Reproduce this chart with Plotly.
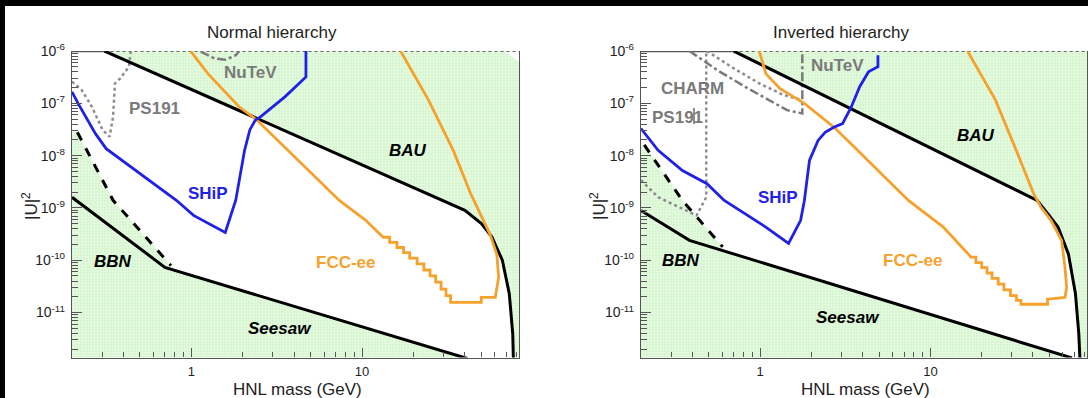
import plotly.graph_objects as go

W, H = 1088, 398

# ---------------- axis extents ----------------
M_RANGE = [0.2, 83.0]            # HNL mass (GeV)
U_RANGE = [10 ** -11.86, 1.0e-6]  # |U|^2

X_TICKS = [1, 10]
X_TICK_TEXT = ["1", "10"]
X_MINOR = [0.3, 0.4, 0.5, 0.6, 0.7, 0.8, 0.9, 2, 3, 4, 5, 6, 7, 8, 9,
           20, 30, 40, 50, 60, 70, 80]
Y_TICKS = [1e-11, 1e-10, 1e-9, 1e-8, 1e-7, 1e-6]
Y_TICK_TEXT = ["10<sup>-11</sup>", "10<sup>-10</sup>", "10<sup>-9</sup>",
               "10<sup>-8</sup>", "10<sup>-7</sup>", "10<sup>-6</sup>"]
Y_MINOR = [k * 10.0 ** e for e in range(-12, -6) for k in range(2, 10)]

# ---------------- Normal hierarchy ----------------
nh_bau_m = [0.31, 29.7, 40.0, 50.0, 57.5, 66.3, 72.8, 76.3, 77.1]
nh_bau_u = [1e-6, 1.4e-9, 9.0e-10, 5.0e-10, 2.8e-10, 1.0e-10, 2.3e-11, 3.9e-12, 1.0e-12]

nh_seesaw_m = [0.2, 0.70, 41.3]
nh_seesaw_u = [1.6e-9, 7.3e-11, 1.32e-12]

nh_bbn_dash_m = [0.215, 0.348, 0.76]
nh_bbn_dash_u = [2.8e-8, 1.4e-9, 7.9e-11]

nh_ship_m = [0.2, 0.217, 0.275, 0.317, 0.817, 1.03, 1.58, 1.82, 1.91, 2.05, 2.2,
             2.37, 2.54, 3.53, 4.69, 4.69]
nh_ship_u = [1.66e-7, 1.0e-7, 2.6e-8, 1.36e-8, 1.4e-9, 7.2e-10, 3.4e-10, 1.4e-9,
             3.4e-9, 1.26e-8, 3.1e-8, 4.8e-8, 5.5e-8, 1.33e-7, 3.2e-7, 1e-6]

nh_fcc_m = [0.99, 1.25, 1.91, 2.42, 7.36, 10.5, 13.3,
            14.5, 14.5, 16.0, 16.0, 17.5, 17.5, 19.0, 19.0, 21.0, 21.0, 23.0, 23.0,
            25.0, 25.0, 27.0, 27.0, 29.0, 29.0, 31.0, 31.0, 33.0, 33.0,
            49.9, 49.9, 60.3, 63.1, 61.5, 56.0, 48.0, 43.3, 34.2, 24.5, 16.8]
nh_fcc_u = [1e-6, 3.7e-7, 8.5e-8, 4.8e-8, 1.39e-9, 5.8e-10, 2.75e-10,
            2.75e-10, 2.2e-10, 2.2e-10, 1.75e-10, 1.75e-10, 1.4e-10, 1.4e-10, 1.1e-10,
            1.1e-10, 8.5e-11, 8.5e-11, 6.5e-11, 6.5e-11, 5.0e-11, 5.0e-11, 3.8e-11,
            3.8e-11, 2.8e-11, 2.8e-11, 2.1e-11, 2.1e-11, 1.57e-11,
            1.57e-11, 1.95e-11, 1.95e-11, 4.7e-11, 1.3e-10, 3.2e-10, 8.9e-10, 1.86e-9,
            1.26e-8, 1.15e-7, 1e-6]

nh_ps191_m = [0.2, 0.228, 0.262, 0.302, 0.332, 0.348, 0.357, 0.383, 0.431, 0.442]
nh_ps191_u = [2.6e-7, 1.8e-7, 8.5e-8, 3.1e-8, 2.3e-8, 5.5e-8, 2.4e-7, 3.0e-7, 5.0e-7, 1e-6]

nh_nutev_m = [1.135, 1.37, 1.58, 1.82, 1.91]
nh_nutev_u = [9.7e-7, 7.2e-7, 6.8e-7, 8.3e-7, 1e-6]

# ---------------- Inverted hierarchy ----------------
ih_bau_m = [0.70, 42.3, 50.0, 56.1, 64.6, 71.0, 74.3, 75.5, 75.7]
ih_bau_u = [1e-6, 1.39e-9, 7.0e-10, 4.3e-10, 1.3e-10, 2.3e-11, 3.9e-12, 1.3e-12, 1.0e-12]

ih_seesaw_m = [0.2, 0.385, 67.7]
ih_seesaw_u = [8.9e-10, 2.4e-10, 1.35e-12]

ih_bbn_dash_m = [0.209, 0.35, 0.603]
ih_bbn_dash_u = [1.6e-8, 1.39e-9, 1.8e-10]

ih_ship_m = [0.2, 0.252, 0.35, 0.488, 0.616, 1.08, 1.47, 1.73, 1.82, 1.86, 1.95,
             2.19, 2.41, 2.71, 3.05, 3.43, 3.85, 4.33, 4.92, 4.92]
ih_ship_u = [3.3e-8, 1.26e-8, 5.2e-9, 2.9e-9, 1.39e-9, 4.3e-10, 2.1e-10, 5.8e-10,
             1.39e-9, 2.5e-9, 8.1e-9, 1.95e-8, 2.8e-8, 3.5e-8, 4.1e-8, 8.5e-8,
             2.1e-7, 4.0e-7, 5.0e-7, 8.3e-7]

ih_fcc_m = [0.99, 1.08, 1.31, 1.82, 2.77, 7.43, 11.9, 17.3,
            18.5, 18.5, 20.0, 20.0, 21.5, 21.5, 23.0, 23.0, 25.0, 25.0, 27.0, 27.0,
            29.5, 29.5, 32.0, 32.0, 34.0, 34.0,
            48.7, 48.7, 61.6, 63.1, 61.6, 58.9, 51.0, 44.4, 42.4, 40.4, 31.9, 24.1, 16.5]
ih_fcc_u = [1e-6, 3.7e-7, 1.9e-7, 1.0e-7, 3.3e-8, 1.39e-9, 4.3e-10, 1.15e-10,
            1.15e-10, 9.0e-11, 9.0e-11, 7.2e-11, 7.2e-11, 5.7e-11, 5.7e-11, 4.5e-11,
            4.5e-11, 3.5e-11, 3.5e-11, 2.7e-11, 2.7e-11, 2.1e-11, 2.1e-11, 1.7e-11,
            1.7e-11, 1.44e-11,
            1.44e-11, 1.8e-11, 1.95e-11, 3.0e-11, 7.4e-11, 2.4e-10, 5.8e-10, 1.05e-9,
            1.39e-9, 1.86e-9, 1.26e-8, 1.15e-7, 1e-6]

ih_ps191_m = [0.2, 0.252, 0.424, 0.483, 0.483]
ih_ps191_u = [3.4e-9, 1.6e-9, 7.2e-10, 1.6e-9, 1e-6]

ih_charm_low_m = [0.385, 0.561, 0.817, 1.14, 1.44, 1.77, 1.77]
ih_charm_low_u = [1e-6, 4.3e-7, 2.07e-7, 1.15e-7, 7.4e-8, 6.4e-8, 1e-6]
ih_charm_high_m = [0.487, 0.677, 0.99, 1.37, 1.77]
ih_charm_high_u = [1e-6, 5.0e-7, 2.4e-7, 1.45e-7, 1.15e-7]

# ---------------- styles ----------------
GREEN = "rgb(214,246,208)"
GREEN_GRID = "rgb(236,252,233)"
BLUE = "#1f22e6"
ORANGE = "#f6a12c"
GREY = "#7a7a7a"
FRAME = "#555"
FONT = "Liberation Sans, Arial, sans-serif"

fig = go.Figure()


def line(xs, ys, ax, color, width=3.0, dash="solid"):
    fig.add_trace(go.Scatter(x=xs, y=ys, mode="lines", xaxis=ax[0], yaxis=ax[1],
                             line=dict(color=color, width=width, dash=dash),
                             hoverinfo="skip", showlegend=False))


def region(xs, ys, ax):
    # light green excluded area with a fine grid texture
    fig.add_trace(go.Scatter(x=xs, y=ys, mode="lines", fill="toself",
                             fillcolor=GREEN, line=dict(width=0),
                             fillpattern=dict(shape="+", size=3, solidity=0.35,
                                              fgcolor=GREEN_GRID, bgcolor=GREEN,
                                              fillmode="replace"),
                             xaxis=ax[0], yaxis=ax[1],
                             hoverinfo="skip", showlegend=False))


LO = 1e-13
panels = [
    (("x", "y"), nh_bau_m, nh_bau_u, nh_seesaw_m, nh_seesaw_u, nh_bbn_dash_m, nh_bbn_dash_u, True),
    (("x2", "y2"), ih_bau_m, ih_bau_u, ih_seesaw_m, ih_seesaw_u, ih_bbn_dash_m, ih_bbn_dash_u, False),
]

for ax, bm, bu, sm, su, dm, du, cut in panels:
    # excluded by BAU: everything above the BAU curve
    if cut:
        top_x = [M_RANGE[1], M_RANGE[1], 68.6, bm[0]]
        top_y = [LO, 6.2e-7, 1e-6, 1e-6]
    else:
        top_x = [M_RANGE[1], M_RANGE[1], bm[0]]
        top_y = [LO, 1e-6, 1e-6]
    region(bm + [bm[-1]] + top_x, bu + [LO] + top_y, ax)
    # excluded by BBN / seesaw: below the solid and left of the dashed curves
    s_end = su[1] * (dm[-1] / sm[1]) ** (-1.0)  # foot of the dashed curve on the seesaw line
    region([0.1, 0.1] + dm + [dm[-1], sm[-1], sm[-1]],
           [LO, du[0]] + du + [s_end, su[-1], LO], ax)
    # upper frame edge: solid over the allowed band, dotted over the excluded band
    line([M_RANGE[0], bm[0]], [1e-6, 1e-6], ax, FRAME, 2.4)
    line([bm[0], M_RANGE[1]], [1e-6, 1e-6], ax, "#666", 2.0, "dot")

# ---- curves, Normal hierarchy ----
A = ("x", "y")
line(nh_ps191_m, nh_ps191_u, A, "#8c8c8c", 2.5, "dot")
line(nh_nutev_m, nh_nutev_u, A, GREY, 2.5, "dashdot")
line(nh_bbn_dash_m, nh_bbn_dash_u, A, "black", 3, "dash")
line(nh_seesaw_m, nh_seesaw_u, A, "black", 3)
line(nh_bau_m, nh_bau_u, A, "black", 3)
line(nh_fcc_m, nh_fcc_u, A, ORANGE, 2.8)
line(nh_ship_m, nh_ship_u, A, BLUE, 2.8)

# ---- curves, Inverted hierarchy ----
B = ("x2", "y2")
line(ih_ps191_m, ih_ps191_u, B, "#8c8c8c", 2.5, "dot")
line(ih_charm_high_m, ih_charm_high_u, B, "#8c8c8c", 2.5, "dot")
line(ih_charm_low_m, ih_charm_low_u, B, GREY, 2.5, "dashdot")
line(ih_bbn_dash_m, ih_bbn_dash_u, B, "black", 3, "dash")
line(ih_seesaw_m, ih_seesaw_u, B, "black", 3)
line(ih_bau_m, ih_bau_u, B, "black", 3)
line(ih_fcc_m, ih_fcc_u, B, ORANGE, 2.8)
line(ih_ship_m, ih_ship_u, B, BLUE, 2.8)


def px(x):
    return x / W


def py(y):
    return 1 - y / H


X1 = (72, 519)
X2 = (641, 1087)
YD = (51, 357.5)

axis_common = dict(
    type="log", showgrid=False, zeroline=False, showline=True, automargin=False,
    linecolor=FRAME, linewidth=1.3, ticks="inside", tickcolor=FRAME,
    tickwidth=1.2, tickfont=dict(family=FONT, size=14, color="#222"),
)
xaxis_kw = dict(axis_common, range=[-0.69897, 1.91908], tickvals=X_TICKS, mirror=False,
                ticktext=X_TICK_TEXT, ticklen=9, ticklabelstandoff=2,
                tickfont=dict(family=FONT, size=13, color="#222"),
                minor=dict(tickvals=X_MINOR, ticks="inside", ticklen=5,
                           tickcolor=FRAME, tickwidth=1.2))
yaxis_kw = dict(axis_common, range=[-11.86, -5.9995], tickvals=Y_TICKS, mirror=True,
                ticktext=Y_TICK_TEXT, ticklen=10, ticklabelstandoff=3,
                minor=dict(tickvals=Y_MINOR, ticks="inside", ticklen=6,
                           tickcolor=FRAME, tickwidth=1.2))

fig.update_layout(
    width=W, height=H, margin=dict(l=0, r=0, t=0, b=0, autoexpand=False),
    paper_bgcolor="white", plot_bgcolor="white",
    font=dict(family=FONT, color="#222"),
    xaxis=dict(xaxis_kw, domain=[px(X1[0]), px(X1[1])], anchor="y"),
    yaxis=dict(yaxis_kw, domain=[py(YD[1]), py(YD[0])], anchor="x"),
    xaxis2=dict(xaxis_kw, domain=[px(X2[0]), px(X2[1])], anchor="y2"),
    yaxis2=dict(yaxis_kw, domain=[py(YD[1]), py(YD[0])], anchor="x2"),
)

labels = [
    # (text, x_px, y_px, size, color, bold, italic, angle)
    ("Normal hierarchy", 272, 33, 17, "#222", False, False, 0),
    ("Inverted hierarchy", 841, 33, 17, "#222", False, False, 0),
    ("HNL mass (GeV)", 297, 389, 17, "#222", False, False, 0),
    ("HNL mass (GeV)", 865, 389, 17, "#222", False, False, 0),
    ("|U|<sup>2</sup>", 30, 206, 17, "#222", False, False, -90),
    ("|U|<sup>2</sup>", 598, 206, 17, "#222", False, False, -90),
    ("NuTeV", 250, 72, 17, GREY, True, False, 0),
    ("PS191", 154, 108, 17, GREY, True, False, 0),
    ("BAU", 408, 150, 17, "black", True, True, 0),
    ("SHiP", 208, 193, 17, BLUE, True, False, 0),
    ("BBN", 113, 261, 17, "black", True, True, 0),
    ("FCC-ee", 346, 262, 17, ORANGE, True, False, 0),
    ("Seesaw", 280, 328, 17, "black", True, True, 0),
    ("NuTeV", 837, 65, 17, GREY, True, False, 0),
    ("CHARM", 692, 88, 17, GREY, True, False, 0),
    ("PS191", 677, 117, 17, GREY, True, False, 0),
    ("BAU", 976, 135, 17, "black", True, True, 0),
    ("SHiP", 778, 197, 17, BLUE, True, False, 0),
    ("BBN", 681, 260, 17, "black", True, True, 0),
    ("FCC-ee", 913, 260, 17, ORANGE, True, False, 0),
    ("Seesaw", 848, 317, 17, "black", True, True, 0),
]
for text, x, y, size, color, bold, italic, angle in labels:
    t = text
    if bold:
        t = "<b>" + t + "</b>"
    if italic:
        t = "<i>" + t + "</i>"
    fig.add_annotation(x=px(x), y=py(y), xref="paper", yref="paper", text=t,
                       showarrow=False, xanchor="center", yanchor="middle",
                       textangle=angle,
                       font=dict(family=FONT, size=size, color=color))

# thin stroke crossing the PS191 label of the right panel
fig.add_shape(type="line", xref="paper", yref="paper", x0=px(694), x1=px(694),
              y0=py(124), y1=py(108), line=dict(color="#444", width=1.2))

# frame strips along the left and top edges of the page
fig.add_shape(type="rect", xref="paper", yref="paper", x0=0, x1=px(5), y0=0, y1=1,
              fillcolor="black", line=dict(width=0))
fig.add_shape(type="rect", xref="paper", yref="paper", x0=0, x1=1, y0=py(6), y1=1,
              fillcolor="black", line=dict(width=0))

fig.write_html("out.html")
